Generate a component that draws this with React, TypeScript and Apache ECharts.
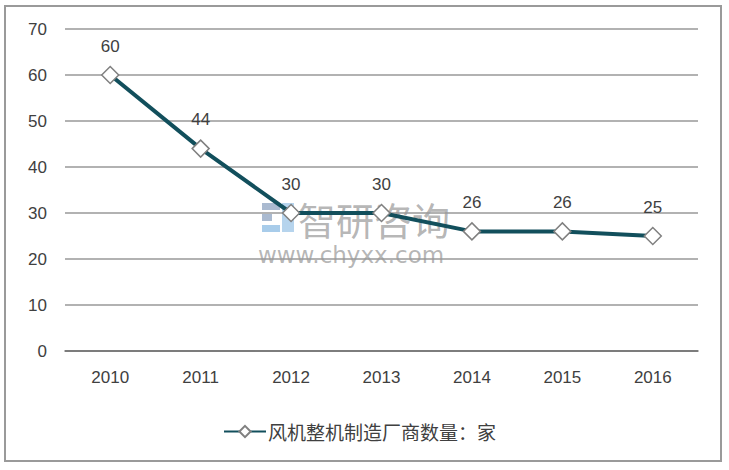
import React, { useEffect, useRef } from "react";
import * as echarts from "echarts";

const categories = ["2010", "2011", "2012", "2013", "2014", "2015", "2016"];
const values = [60, 44, 30, 30, 26, 26, 25];
const seriesName = "风机整机制造厂商数量：家";
const yMin = 0;
const yMax = 70;
const yInterval = 10;

export default function App() {
  const ref = useRef<HTMLDivElement>(null);
  useEffect(() => {
    if (!ref.current) return;
    const chart = echarts.init(ref.current, undefined, { renderer: "svg" });
    const font = "Arial, 'Liberation Sans', 'Noto Sans CJK SC', sans-serif";
    const cjk = "'Noto Sans CJK SC', sans-serif";
    chart.setOption({
      animation: false,
      backgroundColor: "#ffffff",
      textStyle: { fontFamily: font },
      grid: { left: 65, right: 31, top: 29, bottom: 119, containLabel: false },
      xAxis: {
        type: "category",
        data: categories,
        boundaryGap: true,
        axisLine: { show: true, lineStyle: { color: "#6b6b6b", width: 1.5 } },
        axisTick: { show: false },
        axisLabel: { color: "#404040", fontSize: 17, margin: 18, fontFamily: font },
      },
      yAxis: {
        type: "value",
        min: yMin,
        max: yMax,
        interval: yInterval,
        axisLine: { show: false },
        axisTick: { show: false },
        axisLabel: { color: "#404040", fontSize: 17, margin: 18, fontFamily: font },
        splitLine: { lineStyle: { color: "#999999", width: 1.5 } },
      },
      legend: {
        bottom: 24,
        left: 218,
        itemWidth: 42,
        itemHeight: 14,
        itemGap: 10,
        textStyle: { color: "#404040", fontSize: 19, fontFamily: cjk, padding: [0, 0, 0, -3] },
        data: [seriesName],
      },
      series: [
        {
          name: seriesName,
          type: "line",
          data: values,
          symbol: "diamond",
          symbolSize: 17,
          lineStyle: { color: "#124f5c", width: 4 },
          itemStyle: { color: "#ffffff", borderColor: "#808080", borderWidth: 1.5 },
          label: {
            show: true,
            position: "top",
            distance: 11,
            color: "#404040",
            fontSize: 17,
            lineHeight: 17,
            fontFamily: font,
          },
          z: 3,
        },
      ],
      graphic: [
        {
          type: "rect",
          shape: { x: 5, y: 6, width: 716, height: 455 },
          style: { fill: "none", stroke: "#9a9a9a", lineWidth: 2 },
          z: 0,
          silent: true,
        },
        {
          type: "group",
          silent: true,
          z: 10,
          children: [
            { type: "rect", shape: { x: 262, y: 203, width: 18, height: 7 }, style: { fill: "rgba(100,130,170,0.55)" } },
            { type: "rect", shape: { x: 262, y: 214, width: 10, height: 7 }, style: { fill: "rgba(100,130,170,0.55)" } },
            { type: "rect", shape: { x: 262, y: 225, width: 18, height: 7 }, style: { fill: "rgba(110,170,220,0.6)" } },
            { type: "rect", shape: { x: 282, y: 203, width: 12, height: 29 }, style: { fill: "rgba(110,170,220,0.5)" } },
            {
              type: "text",
              x: 298,
              y: 199,
              style: {
                text: "智研咨询",
                fontSize: 38,
                lineHeight: 38,
                fill: "rgba(120,120,120,0.55)",
                fontFamily: cjk,
              },
            },
            {
              type: "text",
              x: 258,
              y: 243,
              style: {
                text: "www.chyxx.com",
                fontSize: 23,
                lineHeight: 23,
                fill: "rgba(120,120,120,0.55)",
                fontFamily: "'DejaVu Sans', sans-serif",
              },
            },
          ],
        },
      ],
    });
    return () => chart.dispose();
  }, []);
  return (
    <div
      ref={ref}
      style={{ position: "fixed", left: 0, top: 0, width: 729, height: 470 }}
    />
  );
}
